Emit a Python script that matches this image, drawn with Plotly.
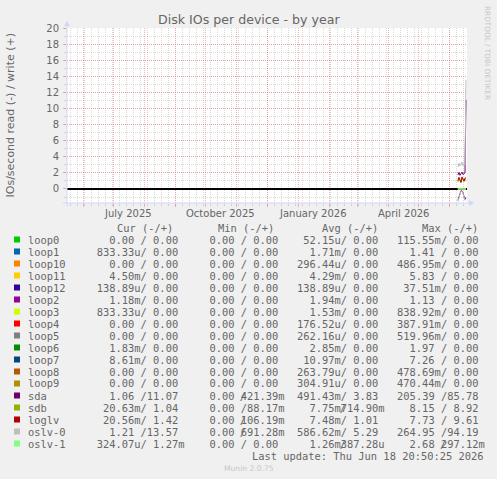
import plotly.graph_objects as go
import pandas as pd

# ---------------- data ----------------
devices = ["loop0", "loop1", "loop10", "loop11", "loop12", "loop2", "loop3", "loop4", "loop5",
           "loop6", "loop7", "loop8", "loop9", "sda", "sdb", "loglv", "oslv-0", "oslv-1"]
colors = ["#00CC00", "#0066B3", "#FF8000", "#FFCC00", "#330099", "#990099", "#CCFF00", "#FF0000",
          "#808080", "#008F00", "#00487D", "#B35A00", "#B38F00", "#6B006B", "#8FB300", "#B30000",
          "#BEBEBE", "#80FF80"]

dates = ["2026-06-09", "2026-06-10", "2026-06-11", "2026-06-12", "2026-06-13",
         "2026-06-14", "2026-06-15", "2026-06-16", "2026-06-17"]

# IOs/second read (drawn below zero) per device, one row per device
read_series = [
    [0.0001, 0.0, 0.0, 0.0, 0.0003, 0.0, 0.0, 0.0, 0.0],
    [0.0021, 0.0015, 0.0018, 0.0012, 0.0020, 0.0016, 0.0019, 0.0014, 0.00083],
    [0.0003, 0.0002, 0.0004, 0.0003, 0.0002, 0.0003, 0.0004, 0.0002, 0.0],
    [0.0050, 0.0038, 0.0045, 0.0041, 0.0048, 0.0036, 0.0044, 0.0040, 0.0045],
    [0.0002, 0.0001, 0.0002, 0.0001, 0.0001, 0.0002, 0.0001, 0.0001, 0.00014],
    [0.0021, 0.0018, 0.0020, 0.0017, 0.0019, 0.0022, 0.0018, 0.0020, 0.00118],
    [0.0016, 0.0014, 0.0017, 0.0015, 0.0013, 0.0016, 0.0015, 0.0014, 0.00083],
    [0.0002, 0.0001, 0.0003, 0.0002, 0.0001, 0.0002, 0.0002, 0.0001, 0.0],
    [0.0003, 0.0002, 0.0003, 0.0002, 0.0003, 0.0002, 0.0003, 0.0002, 0.0],
    [0.0030, 0.0027, 0.0031, 0.0028, 0.0029, 0.0026, 0.0030, 0.0028, 0.00183],
    [0.0120, 0.0105, 0.0098, 0.0113, 0.0107, 0.0102, 0.0115, 0.0110, 0.00861],
    [0.0003, 0.0002, 0.0003, 0.0002, 0.0003, 0.0002, 0.0003, 0.0002, 0.0],
    [0.0003, 0.0003, 0.0002, 0.0003, 0.0003, 0.0002, 0.0003, 0.0003, 0.0],
    [1.40, 0.90, 0.50, 0.20, 0.25, 0.45, 0.90, 1.30, 1.06],
    [0.009, 0.007, 0.008, 0.006, 0.009, 0.007, 0.008, 0.007, 0.02063],
    [0.008, 0.007, 0.008, 0.006, 0.008, 0.007, 0.007, 0.006, 0.02056],
    [1.55, 1.00, 0.55, 0.25, 0.30, 0.50, 1.00, 1.40, 1.21],
    [0.0004, 0.0003, 0.0004, 0.0003, 0.0003, 0.0004, 0.0003, 0.0003, 0.000324],
]
# IOs/second write (drawn above zero)
write_series = [
    [0, 0, 0, 0, 0, 0, 0, 0, 0],
    [0, 0, 0, 0, 0, 0, 0, 0, 0],
    [0, 0, 0, 0, 0, 0, 0, 0, 0],
    [0, 0, 0, 0, 0, 0, 0, 0, 0],
    [0, 0, 0, 0, 0, 0, 0, 0, 0],
    [0, 0, 0, 0, 0, 0, 0, 0, 0],
    [0, 0, 0, 0, 0, 0, 0, 0, 0],
    [0, 0, 0, 0, 0, 0, 0, 0, 0],
    [0, 0, 0, 0, 0, 0, 0, 0, 0],
    [0, 0, 0, 0, 0, 0, 0, 0, 0],
    [0, 0, 0, 0, 0, 0, 0, 0, 0],
    [0, 0, 0, 0, 0, 0, 0, 0, 0],
    [0, 0, 0, 0, 0, 0, 0, 0, 0],
    [1.75, 2.05, 1.70, 1.95, 2.10, 1.80, 1.90, 2.00, 11.07],
    [0.85, 1.30, 1.05, 0.75, 1.40, 1.10, 0.90, 1.25, 1.04],
    [1.05, 1.45, 1.15, 0.85, 1.50, 1.20, 1.00, 1.35, 1.42],
    [2.70, 3.20, 2.85, 3.10, 3.35, 2.90, 3.15, 3.00, 13.57],
    [0.002, 0.001, 0.002, 0.001, 0.002, 0.001, 0.002, 0.001, 0.00127],
]

# legend statistics (read / write)
cur_read = [0, 833.33e-6, 0, 4.50e-3, 138.89e-6, 1.18e-3, 833.33e-6, 0, 0, 1.83e-3, 8.61e-3, 0, 0,
            1.06, 20.63e-3, 20.56e-3, 1.21, 324.07e-6]
cur_write = [0, 0, 0, 0, 0, 0, 0, 0, 0, 0, 0, 0, 0, 11.07, 1.04, 1.42, 13.57, 1.27e-3]
min_read = [0, 0, 0, 0, 0, 0, 0, 0, 0, 0, 0, 0, 0, 0, 0, 0, 0, 0]
min_write = [0, 0, 0, 0, 0, 0, 0, 0, 0, 0, 0, 0, 0, 421.39e-3, 88.17e-3, 106.19e-3, 691.28e-3, 0]
avg_read = [52.15e-6, 1.71e-3, 296.44e-6, 4.29e-3, 138.89e-6, 1.94e-3, 1.53e-3, 176.52e-6, 262.16e-6,
            2.85e-3, 10.97e-3, 263.79e-6, 304.91e-6, 491.43e-3, 7.75e-3, 7.48e-3, 586.62e-3, 1.26e-3]
avg_write = [0, 0, 0, 0, 0, 0, 0, 0, 0, 0, 0, 0, 0, 3.83, 714.90e-3, 1.01, 5.29, 387.28e-6]
max_read = [115.55e-3, 1.41, 486.95e-3, 5.83, 37.51e-3, 1.13, 838.92e-3, 387.91e-3, 519.96e-3,
            1.97, 7.26, 478.69e-3, 470.44e-3, 205.39, 8.15, 7.73, 264.95, 2.68]
max_write = [0, 0, 0, 0, 0, 0, 0, 0, 0, 0, 0, 0, 0, 85.78, 8.92, 9.61, 94.19, 297.12e-3]

column_headers = ["Cur (-/+)", "Min (-/+)", "Avg (-/+)", "Max (-/+)"]

y_tick_vals = [0, 2, 4, 6, 8, 10, 12, 14, 16, 18, 20]
x_label_dates = ["2025-07-16", "2025-10-16", "2026-01-16", "2026-04-16"]
x_labels = ["July 2025", "October 2025", "January 2026", "April 2026"]

title = "Disk IOs per device - by year"
y_title = "IOs/second read (-) / write (+)"
last_update = "Last update: Thu Jun 18 20:50:25 2026"
footer = "Munin 2.0.75"
watermark = "RRDTOOL / TOBI OETIKER"

# ---------------- layout constants ----------------
W, H = 497, 479
L, R, T, B = 67, 467, 28, 203
FONT = "#666666"
AXIS = "#CFD6F8"
MGRID = "rgba(226,110,110,0.5)"
GRID = "rgba(150,150,150,0.35)"
SANS = "DejaVu Sans"
MONO = "DejaVu Sans Mono"
FS = 10.4         # legend font size
CWID = FS * 0.602  # monospace advance
LX = 26.5         # legend text left
NB = "\u00a0"


def tight(ch, shrink):
    return f"<span style='letter-spacing:-{shrink:.2f}px'>{ch}</span>"


def px(x):
    return (x - L) / (R - L)


def py(y):
    return (B - y) / (B - T)


def si(v):
    if v == 0:
        return "0.00", " "
    for f, u in ((1.0, " "), (1e-3, "m"), (1e-6, "u")):
        if abs(v) >= f * 0.9995:
            return f"{v / f:.2f}", u
    return f"{v / 1e-6:.2f}", "u"


fig = go.Figure()

for i, name in enumerate(devices):
    fig.add_trace(go.Scatter(x=dates, y=[-v for v in read_series[i]], mode="lines",
                             line=dict(color=colors[i], width=1), showlegend=False,
                             hoverinfo="skip"))
    fig.add_trace(go.Scatter(x=dates, y=write_series[i], mode="lines",
                             line=dict(color=colors[i], width=1), showlegend=False,
                             hoverinfo="skip"))

month_starts = [d.strftime("%Y-%m-%d") for d in pd.date_range("2025-06-01", "2026-06-01", freq="MS")]
week_starts = [d.strftime("%Y-%m-%d") for d in pd.date_range("2025-05-19", "2026-06-15", freq="W-MON")]

fig.update_layout(
    width=W, height=H,
    margin=dict(l=L, r=W - R, t=T, b=H - B, pad=0),
    paper_bgcolor="#F0F0F0", plot_bgcolor="#FFFFFF",
    showlegend=False,
    xaxis=dict(type="date", range=["2025-05-16", "2026-06-18"], tickmode="array",
               tickvals=month_starts, showticklabels=False,
               showgrid=True, gridcolor=MGRID, griddash="1px,1px", gridwidth=1,
               ticks="outside", ticklen=3, tickcolor=MGRID, tickwidth=1,
               minor=dict(tickmode="array", tickvals=week_starts, showgrid=True,
                          gridcolor=GRID, griddash="1px,1px", gridwidth=1,
                          ticks="outside", ticklen=2, tickcolor=GRID),
               zeroline=False, showline=False, fixedrange=True),
    yaxis=dict(range=[-1.74, 20], tickmode="array", tickvals=y_tick_vals,
               ticktext=[str(v) for v in y_tick_vals],
               showgrid=True, gridcolor=MGRID, griddash="1px,1px", gridwidth=1,
               ticks="outside", ticklen=3, tickcolor=MGRID, tickwidth=1,
               ticklabelstandoff=2,
               tickfont=dict(family=SANS, size=10, color=FONT),
               minor=dict(tickmode="linear", tick0=0, dtick=1, showgrid=True,
                          gridcolor=GRID, griddash="1px,1px", gridwidth=1,
                          ticks="outside", ticklen=2, tickcolor=GRID),
               zeroline=True, zerolinecolor="#000000", zerolinewidth=2,
               showline=False, fixedrange=True),
)

anns = []


def ann(text, x, y, size, color=FONT, family=SANS, xanchor="left", yanchor="middle", angle=0):
    anns.append(dict(text=text, x=px(x), y=py(y), xref="paper",
                     yref="paper", xanchor=xanchor, yanchor=yanchor, showarrow=False,
                     borderpad=0, textangle=angle,
                     font=dict(size=size, color=color, family=family)))


ann(title, W / 2, 19, 12.6, xanchor="center")
ann(y_title, 10, (T + B) / 2, 11, xanchor="center", angle=-90)
ann(watermark, 488, 53, 7.3, color="#C8C8C8", xanchor="center", angle=90)
for d, lab in zip(x_label_dates, x_labels):
    anns.append(dict(text=lab, x=d, y=py(213), xref="x", yref="paper", xanchor="center",
                     yanchor="middle", showarrow=False, borderpad=0,
                     font=dict(size=10, color=FONT, family=SANS)))

# legend
header_x = [116, 217, 321, 421]
for hx, h in zip(header_x, column_headers):
    ann(h.replace(" ", NB), hx, 228, FS, family=MONO)

stats = [(cur_read, cur_write), (min_read, min_write), (avg_read, avg_write), (max_read, max_write)]
shapes = []
for i, name in enumerate(devices):
    yrow = 239.5 + 12 * i
    cells = [NB] * 74
    for k, ch in enumerate(name):
        cells[k] = ch
    for c, (rd, wr) in enumerate(stats):
        s = 11 + 16 * c
        av, au = si(rd[i])
        a_str = f"{av:>6}{au}"
        for k, ch in enumerate(a_str):
            cells[s + k] = ch.replace(" ", NB)
        bv, bu = si(wr[i])
        b_str = f"{bv:>6}{bu}"
        if b_str[0] != " ":
            # value overflows onto the slash: the slash and first digit share one cell
            cells[s + 6] = tight(cells[s + 6], 1.0)
            cells[s + 7] = tight("/", CWID - 1.0) + b_str[0]
        else:
            cells[s + 7] = "/"
        for k in range(1, 7):
            cells[s + 7 + k] = b_str[k].replace(" ", NB)
    ann("".join(cells).rstrip(NB), LX, yrow, FS, family=MONO)
    shapes.append(dict(type="rect", xref="paper", yref="paper", x0=px(14), x1=px(20),
                       y0=py(yrow + 3), y1=py(yrow - 3), fillcolor=colors[i], line=dict(width=0)))

ann(last_update.replace(" ", NB), 484, 239.5 + 12 * 18, FS, family=MONO, xanchor="right")
ann(footer, W / 2, 468, 7.6, color="#C8C8C8", xanchor="center")

# axes and arrows (rrdtool style)
shapes.append(dict(type="line", xref="paper", yref="paper", x0=px(L - 4), x1=px(R + 4),
                   y0=py(B), y1=py(B), line=dict(color=AXIS, width=1)))
shapes.append(dict(type="line", xref="paper", yref="paper", x0=px(L), x1=px(L),
                   y0=py(B + 4), y1=py(T - 4), line=dict(color=AXIS, width=1)))
shapes.append(dict(type="path", xref="paper", yref="paper",
                   path=f"M {px(R + 2)} {py(B - 3)} L {px(R + 2)} {py(B + 3)} L {px(R + 7)} {py(B)} Z",
                   fillcolor=AXIS, line=dict(width=0)))
shapes.append(dict(type="path", xref="paper", yref="paper",
                   path=f"M {px(L - 3)} {py(T - 2)} L {px(L + 3)} {py(T - 2)} L {px(L)} {py(T - 7)} Z",
                   fillcolor=AXIS, line=dict(width=0)))

fig.update_layout(annotations=anns, shapes=shapes)
fig.write_html("out.html", config={"displayModeBar": False})
